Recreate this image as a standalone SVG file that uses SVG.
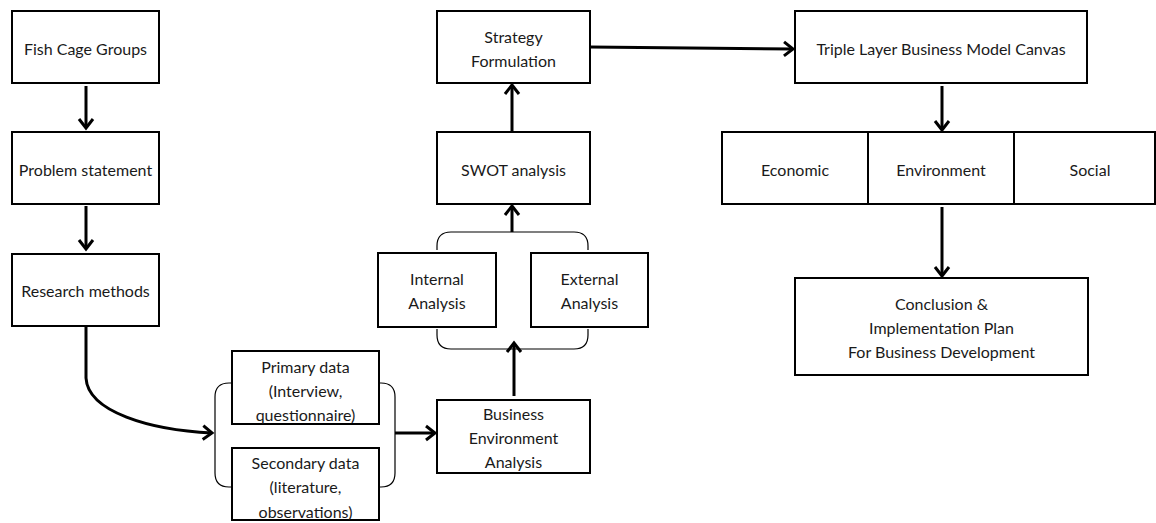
<svg xmlns="http://www.w3.org/2000/svg" width="1156" height="523" viewBox="0 0 1156 523">
<defs>
<style>
.box{fill:#fff;stroke:#000;stroke-width:2}
.t{font-family:Lato,"Liberation Sans",sans-serif;font-size:16px;fill:#1a1a1a;text-anchor:middle;dominant-baseline:central}
.c{fill:none;stroke:#000;stroke-width:3}
.br{fill:none;stroke:#000;stroke-width:1.2}
</style>
<marker id="arr" markerWidth="16" markerHeight="18" refX="12" refY="9" orient="auto" markerUnits="userSpaceOnUse">
<path d="M3,2 L12,9 L3,16" fill="none" stroke="#000" stroke-width="3"/>
</marker>
</defs>
<rect width="1156" height="523" fill="#fff"/>
<g id="fish"><rect class="box" x="12" y="11" width="147" height="72"/><text class="t" x="85.5" y="48">Fish Cage Groups</text></g>
<g id="problem"><rect class="box" x="12" y="132" width="147" height="72"/><text class="t" x="85.5" y="169">Problem statement</text></g>
<g id="research"><rect class="box" x="12" y="254" width="147" height="72"/><text class="t" x="85.5" y="290">Research methods</text></g>
<g id="primary"><rect class="box" x="232" y="351" width="147" height="73"/><text class="t" x="305.5" y="366">Primary data</text><text class="t" x="305.5" y="390">(Interview,</text><text class="t" x="305.5" y="414">questionnaire)</text></g>
<g id="secondary"><rect class="box" x="232" y="448" width="147" height="72"/><text class="t" x="305.5" y="462">Secondary data</text><text class="t" x="305.5" y="486">(literature,</text><text class="t" x="305.5" y="511">observations)</text></g>
<g id="bea"><rect class="box" x="437" y="400" width="153" height="73"/><text class="t" x="513.5" y="413">Business</text><text class="t" x="513.5" y="437">Environment</text><text class="t" x="513.5" y="461">Analysis</text></g>
<g id="internal"><rect class="box" x="378" y="253" width="118" height="74"/><text class="t" x="437" y="278">Internal</text><text class="t" x="437" y="302">Analysis</text></g>
<g id="external"><rect class="box" x="531" y="253" width="117" height="74"/><text class="t" x="589.5" y="278">External</text><text class="t" x="589.5" y="302">Analysis</text></g>
<g id="swot"><rect class="box" x="437" y="132" width="153" height="72"/><text class="t" x="513.5" y="169">SWOT analysis</text></g>
<g id="strategy"><rect class="box" x="437" y="11" width="153" height="72"/><text class="t" x="513.5" y="36">Strategy</text><text class="t" x="513.5" y="60">Formulation</text></g>
<g id="triple"><rect class="box" x="795" y="11" width="292" height="72"/><text class="t" x="941" y="48">Triple Layer Business Model Canvas</text></g>
<g id="economic"><rect class="box" x="722" y="132" width="146" height="72"/><text class="t" x="795" y="169">Economic</text></g>
<g id="environment"><rect class="box" x="868" y="132" width="146" height="72"/><text class="t" x="941" y="169">Environment</text></g>
<g id="social"><rect class="box" x="1014" y="132" width="141" height="72"/><text class="t" x="1090" y="169">Social</text></g>
<g id="conclusion"><rect class="box" x="795" y="278" width="293" height="97"/><text class="t" x="941.5" y="303">Conclusion &amp;</text><text class="t" x="941.5" y="327">Implementation Plan</text><text class="t" x="941.5" y="351">For Business Development</text></g>
<g id="connectors">
<path class="br" d="M232,383 H229 Q215,383 215,397 V473 Q215,487 229,487 H232"/>
<path class="br" d="M379,383 H381 Q395,383 395,397 V473 Q395,487 381,487 H379"/>
<path class="br" d="M437,250 V246 Q437,232 451,232 H574 Q588,232 588,246 V250"/>
<path class="br" d="M437,329 V335 Q437,349 451,349 H574 Q588,349 588,335 V329"/>
<path class="c" d="M86,86 V128" marker-end="url(#arr)"/>
<path class="c" d="M86,206 V249" marker-end="url(#arr)"/>
<path class="c" d="M86,326 V378 C88,412 150,430 212,433" marker-end="url(#arr)"/>
<path class="c" d="M395,433 H435" marker-end="url(#arr)"/>
<path class="c" d="M514,396 V343" marker-end="url(#arr)"/>
<path class="c" d="M512,232 V206" marker-end="url(#arr)"/>
<path class="c" d="M512,133 V85" marker-end="url(#arr)"/>
<path class="c" d="M590,47 L793,49" marker-end="url(#arr)"/>
<path class="c" d="M942,86 V130" marker-end="url(#arr)"/>
<path class="c" d="M942,207 V276" marker-end="url(#arr)"/>
</g>
</svg>
